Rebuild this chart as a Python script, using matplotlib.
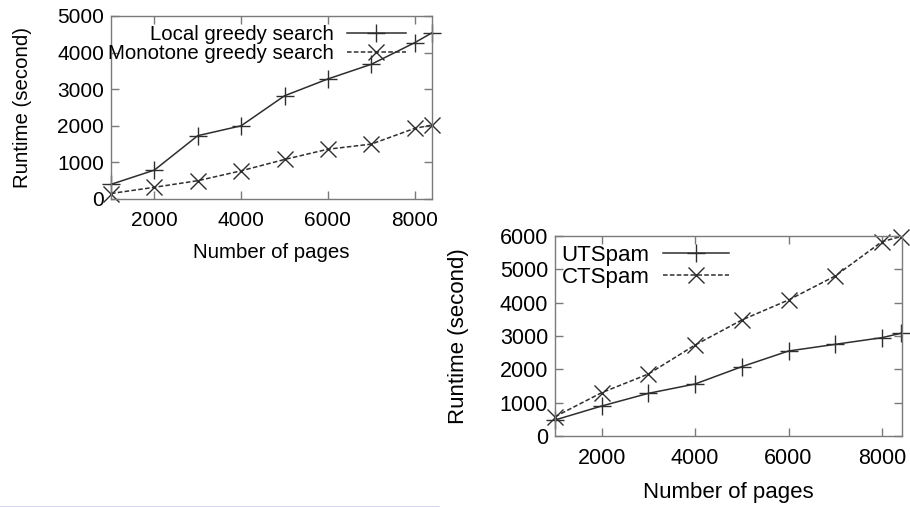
import matplotlib
matplotlib.use("Agg")
import matplotlib.pyplot as plt
from matplotlib.lines import Line2D

plt.rcParams['font.family'] = ['Liberation Sans', 'DejaVu Sans']

# Runtime vs. number of pages
pages = [1000, 2000, 3000, 4000, 5000, 6000, 7000, 8000, 8400]

local_greedy = [400, 790, 1730, 2000, 2820, 3280, 3680, 4270, 4540]
monotone_greedy = [150, 320, 500, 770, 1080, 1360, 1500, 1930, 2020]

ut_spam = [480, 900, 1280, 1560, 2080, 2550, 2750, 2950, 3080]
ct_spam = [580, 1300, 1860, 2730, 3480, 4080, 4800, 5830, 5980]

left_yticks = [0, 1000, 2000, 3000, 4000, 5000]
right_yticks = [0, 1000, 2000, 3000, 4000, 5000, 6000]
xticks = [2000, 4000, 6000, 8000]

W, H = 910, 507
fig = plt.figure(figsize=(W / 100, H / 100), dpi=100)

LINE = '#2e2e2e'
FRAME = '#7a7a7a'


def px_axes(l, r, t, b):
    return fig.add_axes([l / W, 1 - b / H, (r - l) / W, (b - t) / H])


def style(ax, yticks, xlim, ylim, tick_fs, label_fs, ylabelpad):
    ax.set_xlim(*xlim)
    ax.set_ylim(*ylim)
    ax.set_xticks(xticks)
    ax.set_yticks(yticks)
    for s in ax.spines.values():
        s.set_color(FRAME)
        s.set_linewidth(1.0)
    ax.tick_params(direction='in', length=6, width=1.0, color=FRAME,
                   top=True, right=True, labelsize=tick_fs)
    ax.tick_params(axis='x', pad=9)
    ax.tick_params(axis='y', pad=5)
    ax.set_xlabel('Number of pages', fontsize=label_fs, labelpad=9)
    ax.set_ylabel('Runtime (second)', fontsize=label_fs, labelpad=ylabelpad)


# left panel
ax1 = px_axes(111, 432, 16, 199)
ax1.plot(pages, local_greedy, '-', color=LINE, lw=1.1, marker='+', ms=13,
         mew=1.0, label='Local greedy search', clip_on=False)
ax1.plot(pages, monotone_greedy, '--', color=LINE, lw=1.1, marker='x',
         ms=12, mew=1.0, dashes=(3, 1.5), label='Monotone greedy search',
         clip_on=False)
style(ax1, left_yticks, (1000, 8400), (0, 5000), 15, 14.7, 18)
ax1.legend(loc='upper right', frameon=False, markerfirst=False, fontsize=14.7,
           handlelength=2.9, handletextpad=0.6, labelspacing=0.0,
           borderaxespad=0.1, bbox_to_anchor=(0.95, 1.005))

# right panel
ax2 = px_axes(555, 902, 236, 436)
ax2.plot(pages, ut_spam, '-', color=LINE, lw=1.1, marker='+', ms=13,
         mew=1.0, label='UTSpam', clip_on=False)
ax2.plot(pages, ct_spam, '--', color=LINE, lw=1.1, marker='x', ms=12,
         mew=1.0, dashes=(3, 1.5), label='CTSpam', clip_on=False)
style(ax2, right_yticks, (1000, 8430), (0, 6000), 15.5, 16, 22)
ax2.legend(loc='upper left', frameon=False, markerfirst=False, fontsize=16,
           handlelength=3.0, handletextpad=0.6, labelspacing=0.05,
           borderaxespad=0.1, bbox_to_anchor=(-0.014, 1.01))

# thin rule along the bottom edge
fig.add_artist(Line2D([0, 438 / W], [0.5 / H, 0.5 / H], color='#d2d2ee',
                      lw=2, transform=fig.transFigure))

fig.savefig('out.png', dpi=100)
